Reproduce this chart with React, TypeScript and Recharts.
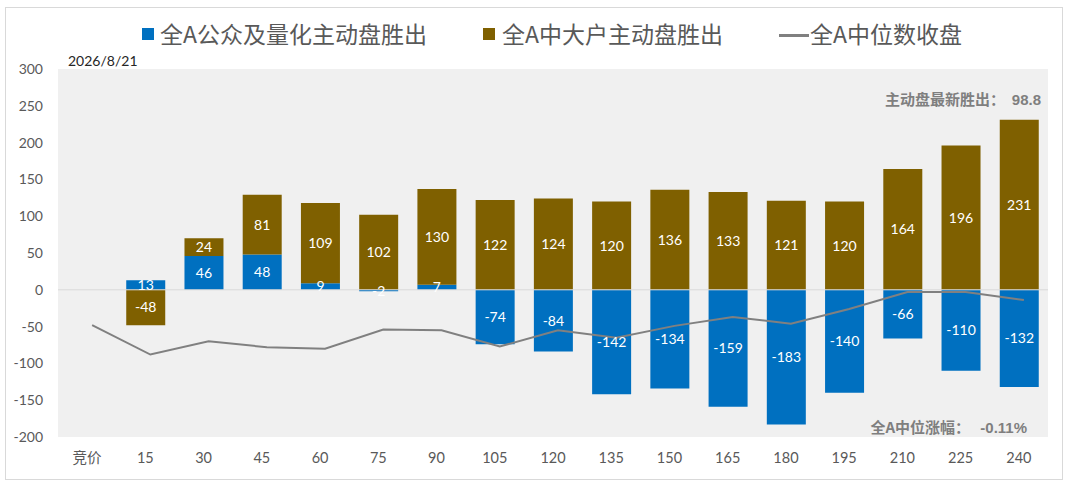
import React from "react";
import {
  ComposedChart,
  Bar,
  Line,
  XAxis,
  YAxis,
  CartesianGrid,
  ReferenceLine,
  LabelList,
} from "recharts";

// x categories: auction + minutes
const categories = ["竞价", "15", "30", "45", "60", "75", "90", "105", "120", "135", "150", "165", "180", "195", "210", "225", "240"];

// 全A公众及量化主动盘胜出
const publicQuant = [0, 13, 46, 48, 9, -2, 7, -74, -84, -142, -134, -159, -183, -140, -66, -110, -132];
// 全A中大户主动盘胜出
const largeHolders = [0, -48, 24, 81, 109, 102, 130, 122, 124, 120, 136, 133, 121, 120, 164, 196, 231];
// 全A中位数收盘
const medianClose = [-48, -88, -70, -78, -80, -54, -55, -77, -55, -65, -49, -37, -46, -26, -3, -3, -14];

const yTicks = [-200, -150, -100, -50, 0, 50, 100, 150, 200, 250, 300];

const BLUE = "#0070C0";
const BROWN = "#7F6000";
const GREY = "#808080";
const TEXT = "#595959";

const NUM_FONT = "Lato, 'Noto Sans CJK SC', sans-serif";
const CJK_FONT = "'Noto Sans CJK SC', 'Noto Sans', sans-serif";

const data = categories.map((name, i) => ({
  name,
  publicQuant: publicQuant[i],
  largeHolders: largeHolders[i],
  medianClose: medianClose[i],
}));

const legendText: React.CSSProperties = {
  position: "absolute",
  top: 22,
  fontFamily: CJK_FONT,
  fontSize: 23,
  lineHeight: 1,
  color: TEXT,
  whiteSpace: "nowrap",
};

const LegendBox = () => (
  <>
    <div style={{ position: "absolute", left: 142, top: 28, width: 12, height: 12, background: BLUE }} />
    <div style={{ ...legendText, left: 160 }}>全A公众及量化主动盘胜出</div>
    <div style={{ position: "absolute", left: 483, top: 28, width: 12, height: 12, background: BROWN }} />
    <div style={{ ...legendText, left: 502 }}>全A中大户主动盘胜出</div>
    <div style={{ position: "absolute", left: 779, top: 34, width: 30, height: 3, background: GREY }} />
    <div style={{ ...legendText, left: 810 }}>全A中位数收盘</div>
  </>
);

const note: React.CSSProperties = {
  position: "absolute",
  fontFamily: CJK_FONT,
  fontWeight: 700,
  fontSize: 15,
  lineHeight: 1,
  color: "#7F7F7F",
  whiteSpace: "nowrap",
};

const App = () => {
  return (
    <div style={{ position: "fixed", top: 0, left: 0, width: 1071, height: 486, background: "#fff" }}>
      <style>{`.median-line { transform: translateX(5px); }`}</style>
      <div
        style={{
          position: "absolute",
          left: 5,
          top: 7,
          width: 1056,
          height: 471,
          border: "1px solid #d9d9d9",
        }}
      />
      <LegendBox />
      <div
        style={{
          position: "absolute",
          left: 68,
          top: 52,
          fontFamily: NUM_FONT,
          fontSize: 14,
          color: "#262626",
        }}
      >
        2026/8/21
      </div>
      <ComposedChart
        width={1071}
        height={486}
        data={data}
        stackOffset="sign"
        barSize={39}
        margin={{ top: 69, right: 23, bottom: 19, left: 0 }}
        style={{ position: "absolute", top: 0, left: 0 }}
      >
        <CartesianGrid fill="#F0F0F0" horizontal={false} vertical={false} />
        <XAxis
          dataKey="name"
          height={30}
          axisLine={false}
          tickLine={false}
          tickMargin={10}
          interval={0}
          tick={{ fill: TEXT, fontSize: 14.5, fontFamily: NUM_FONT }}
        />
        <YAxis
          width={58}
          domain={[-200, 300]}
          ticks={yTicks}
          axisLine={false}
          tickLine={false}
          tickMargin={9}
          tick={{ fill: TEXT, fontSize: 14, fontFamily: NUM_FONT }}
        />
        <ReferenceLine y={0} stroke="#d9d9d9" strokeWidth={1} />
        <Bar dataKey="publicQuant" stackId="a" fill={BLUE} isAnimationActive={false}>
          <LabelList dataKey="publicQuant" position="center" fill="#fff" fontSize={14} fontFamily={NUM_FONT} />
        </Bar>
        <Bar dataKey="largeHolders" stackId="a" fill={BROWN} isAnimationActive={false}>
          <LabelList dataKey="largeHolders" position="center" fill="#fff" fontSize={14} fontFamily={NUM_FONT} />
        </Bar>
        <Line
          className="median-line"
          dataKey="medianClose"
          type="linear"
          stroke={GREY}
          strokeWidth={2}
          dot={false}
          activeDot={false}
          isAnimationActive={false}
        />
      </ComposedChart>
      <div style={{ ...note, right: 1071 - 1041, top: 91 }}>
        主动盘最新胜出：&nbsp;&nbsp;<span style={{ fontFamily: "'Liberation Sans', Arial, sans-serif" }}>98.8</span>
      </div>
      <div style={{ ...note, right: 1071 - 1027, top: 419 }}>
        全A中位涨幅：&nbsp;&nbsp;&nbsp;<span style={{ fontFamily: "'Liberation Sans', Arial, sans-serif" }}>-0.11%</span>
      </div>
    </div>
  );
};

export default App;
